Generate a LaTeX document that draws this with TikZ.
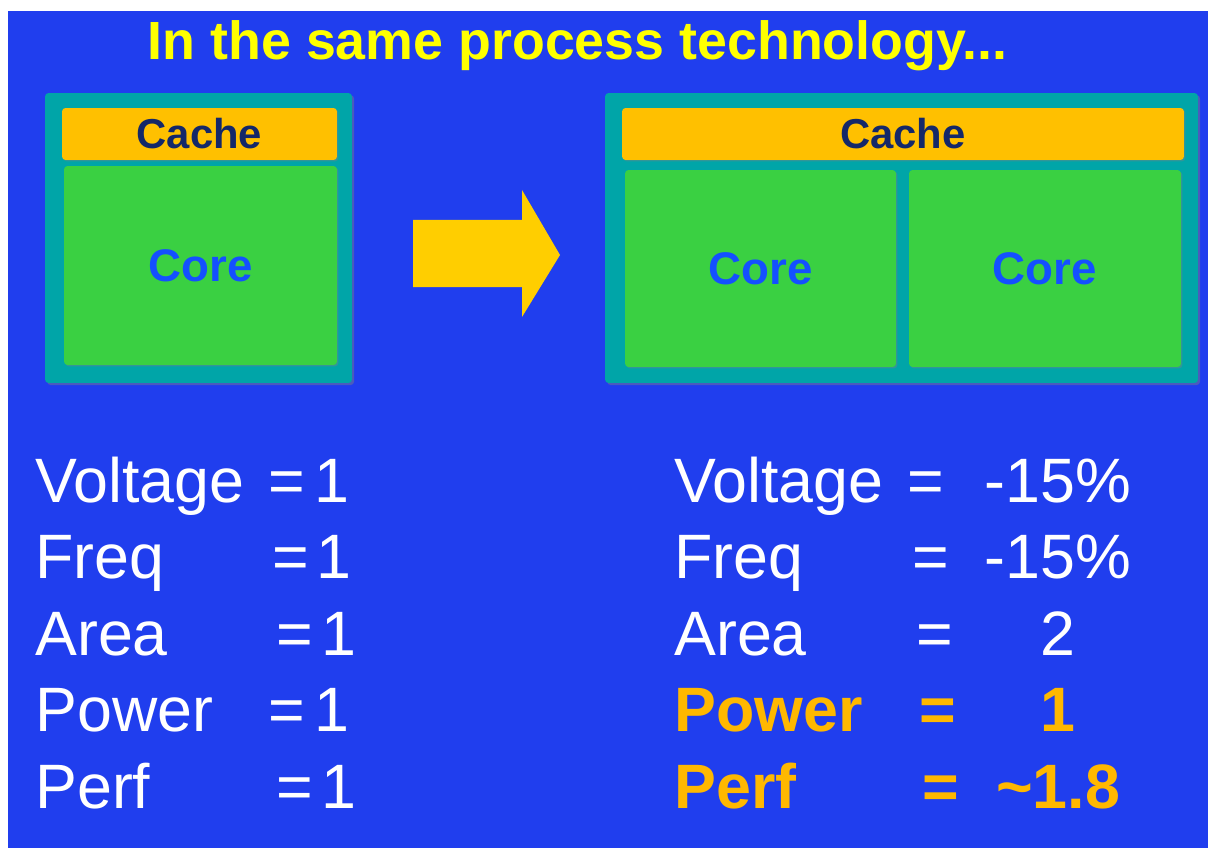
\documentclass[tikz,border=0pt]{standalone}
\usepackage{fontspec}
\setmainfont{Liberation Sans}
\usetikzlibrary{shadows}
\definecolor{slideblue}{RGB}{32,62,238}
\definecolor{chipteal}{RGB}{0,165,168}
\definecolor{cacheorange}{RGB}{255,192,0}
\definecolor{coregreen}{RGB}{58,208,66}
\definecolor{coreblue}{RGB}{20,80,255}
\definecolor{cachenavy}{RGB}{20,40,105}
\definecolor{titleyellow}{RGB}{255,255,0}
\definecolor{hilite}{RGB}{255,184,0}
\definecolor{arrowgold}{RGB}{255,206,0}
\begin{document}
\begin{tikzpicture}[x=0.02cm,y=-0.02cm,line join=round,
  die/.style={rectangle,fill=chipteal,rounded corners=2pt,inner sep=0pt,
    drop shadow={shadow xshift=1.2pt,shadow yshift=-1.2pt,opacity=.45}},
  cachebar/.style={rectangle,fill=cacheorange,rounded corners=2pt,inner sep=0pt,
    text=cachenavy,font=\bfseries\fontsize{23.8}{28}\selectfont,
    drop shadow={shadow xshift=.8pt,shadow yshift=-.8pt,opacity=.4}},
  coreblock/.style={rectangle,fill=coregreen,rounded corners=2pt,inner sep=0pt,
    text=coreblue,font=\bfseries\fontsize{26}{30}\selectfont,
    drop shadow={shadow xshift=.8pt,shadow yshift=-.8pt,opacity=.4}},
  headline/.style={text=titleyellow,inner sep=0pt,font=\bfseries\fontsize{30.6}{36}\selectfont},
  stat/.style={text=white,inner sep=0pt,font=\fontsize{35.7}{40}\selectfont},
  hot/.style={text=hilite,inner sep=0pt,font=\bfseries\fontsize{35.7}{40}\selectfont}]
  % slide background
  \fill[white] (0,0) rectangle (1208,848);
  \fill[slideblue] (8,11) rectangle (1208,848);
  \node[headline,anchor=base] (title) at (577.5,60) {In the same process technology...};
  % single core die
  \node[die,minimum width=6.14cm,minimum height=5.8cm] (dieA) at (198.5,238) {};
  \node[cachebar,minimum width=5.5cm,minimum height=1.04cm] (cacheA) at (199.5,134) {Cache};
  \node[coreblock,minimum width=5.46cm,minimum height=3.98cm] (coreA) at (200.5,265.5) {Core};
  % block arrow
  \fill[arrowgold] (413,220) -- (522,220) -- (522,190) -- (560,255) -- (522,317)
    -- (522,287) -- (413,287) -- cycle;
  % dual core die
  \node[die,minimum width=11.86cm,minimum height=5.8cm] (dieB) at (901.5,238) {};
  \node[cachebar,minimum width=11.24cm,minimum height=1.04cm] (cacheB) at (903,134) {Cache};
  \node[coreblock,minimum width=5.42cm,minimum height=3.94cm] (coreB) at (760.5,268.5) {Core};
  \node[coreblock,minimum width=5.44cm,minimum height=3.94cm] (coreC) at (1045,268.5) {Core};
  % figures before
  \foreach \lab/\eqx/\valx [count=\i] in {Voltage/287/350,Freq/291/352,Area/295/357,
      Power/287/350,Perf/295/357} {
    \pgfmathsetmacro\yb{502+76.5*(\i-1)}
    \node[stat,anchor=base west] (oldlab\i) at (35,\yb) {\lab};
    \node[stat,anchor=base] (oldeq\i) at (\eqx,\yb) {=};
    \node[stat,anchor=base east] (oldval\i) at (\valx,\yb) {1};
  }
  % figures after
  \foreach \lab/\eqx/\val/\sty [count=\i] in {Voltage/926/-15\%/stat,Freq/931/-15\%/stat,
      Area/935/2/stat,Power/938/1/hot,Perf/941/\textasciitilde1.8/hot} {
    \pgfmathsetmacro\yb{502+76.5*(\i-1)}
    \node[\sty,anchor=base west] (newlab\i) at (674,\yb) {\lab};
    \node[\sty,anchor=base] (neweq\i) at (\eqx,\yb) {=};
    \node[\sty,anchor=base] (newval\i) at (1058,\yb) {\val};
  }
\end{tikzpicture}
\end{document}
